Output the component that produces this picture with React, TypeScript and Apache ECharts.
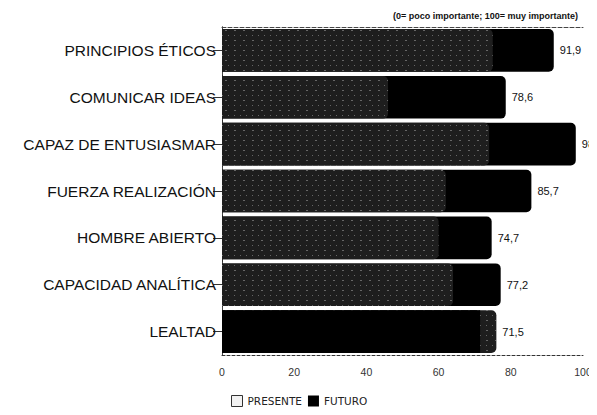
import React, { useEffect, useRef } from "react";
import * as echarts from "echarts";

const categories = [
  "PRINCIPIOS ÉTICOS",
  "COMUNICAR IDEAS",
  "CAPAZ DE ENTUSIASMAR",
  "FUERZA REALIZACIÓN",
  "HOMBRE ABIERTO",
  "CAPACIDAD ANALÍTICA",
  "LEALTAD",
];
const futuro = [91.9, 78.6, 98, 85.7, 74.7, 77.2, 71.5];
const presente = [75, 46, 74, 62, 60, 64, 76];
const xTicks = [0, 20, 40, 60, 80, 100];
const subtitle = "(0= poco importante; 100= muy importante)";

const fmt = (v: number) => String(v).replace(".", ",");

export default function App() {
  const ref = useRef<HTMLDivElement>(null);
  useEffect(() => {
    if (!ref.current) return;
    const chart = echarts.init(ref.current, undefined, { renderer: "svg" });
    const cats = [...categories].reverse();
    const fut = [...futuro].reverse();
    const pre = [...presente].reverse();
    const barBase = {
      type: "bar" as const,
      barGap: "-100%",
      barCategoryGap: "9%",
    };
    const presenteStyle = {
      color: "#1e1e1e",
      borderRadius: [0, 5, 5, 0],
      decal: {
        symbol: "rect",
        symbolSize: 1,
        color: "rgba(210,210,210,0.4)",
        dashArrayX: [[1, 5], [2, 7]],
        dashArrayY: [1, 4],
        rotation: 0,
      },
    };
    chart.setOption({
      animation: false,
      textStyle: { fontFamily: "Liberation Sans, Arial, sans-serif" },
      grid: { left: 222, right: 14, top: 27, bottom: 60, containLabel: false },
      title: {
        text: subtitle,
        right: 14,
        top: 6,
        textStyle: { fontSize: 9, fontWeight: "bold", color: "#111" },
      },
      legend: {
        bottom: 3,
        left: 226,
        itemWidth: 11,
        itemHeight: 11,
        itemGap: 6,
        textStyle: { fontSize: 10.5, color: "#222", fontFamily: "DejaVu Sans, sans-serif" },
        data: [
          {
            name: "PRESENTE",
            icon: "rect",
            itemStyle: { color: "#f2f2f2", borderColor: "#333", borderWidth: 1, decal: "none" },
          },
          { name: "FUTURO", icon: "rect", itemStyle: { color: "#000" } },
        ],
      },
      xAxis: [
        {
          type: "value",
          min: 0,
          max: 100,
          interval: 20,
          axisLine: { show: true, lineStyle: { color: "#333", type: [3, 2], width: 1 } },
          axisTick: { show: false },
          splitLine: { show: false },
          axisLabel: {
            fontSize: 10.5,
            color: "#333",
            margin: 11,
            formatter: (v: number) => (xTicks.includes(v) ? String(v) : ""),
          },
        },
        {
          type: "value",
          position: "top",
          min: 0,
          max: 100,
          axisLine: { show: true, lineStyle: { color: "#444", type: [4, 2], width: 1 } },
          axisTick: { show: false },
          axisLabel: { show: false },
          splitLine: { show: false },
        },
      ],
      yAxis: [
        {
          type: "category",
          data: cats,
          axisLine: { show: true, lineStyle: { color: "#222", width: 1 } },
          axisTick: { show: true, alignWithLabel: true, length: 9, lineStyle: { color: "#333" } },
          axisLabel: {
            fontSize: 15.5,
            color: "#111",
            margin: 6,
          },
        },
        {
          type: "category",
          position: "right",
          data: cats,
          axisLine: { show: true, lineStyle: { color: "#444", type: [3, 2], width: 1 } },
          axisTick: { show: false },
          axisLabel: { show: false },
        },
      ],
      series: [
        {
          ...barBase,
          name: "FUTURO",
          data: fut,
          itemStyle: { color: "#000", borderRadius: [0, 5, 5, 0] },
        },
        {
          ...barBase,
          name: "PRESENTE",
          data: pre,
          itemStyle: presenteStyle,
        },
        {
          ...barBase,
          name: "FUTURO",
          data: fut.map((f, i) => (f < pre[i] ? f : "-")),
          itemStyle: { color: "#000", borderRadius: [0, 0, 0, 0] },
        },
        {
          ...barBase,
          name: "etiquetas",
          data: fut.map((f, i) => Math.max(f, pre[i])),
          itemStyle: { color: "rgba(0,0,0,0)" },
          label: {
            show: true,
            position: "right",
            distance: 6,
            fontSize: 11,
            color: "#111",
            formatter: (p: any) => fmt(fut[p.dataIndex]),
          },
          silent: true,
        },
      ],
    });
    return () => chart.dispose();
  }, []);
  return <div ref={ref} style={{ width: 597, height: 415, margin: -8 }} />;
}
